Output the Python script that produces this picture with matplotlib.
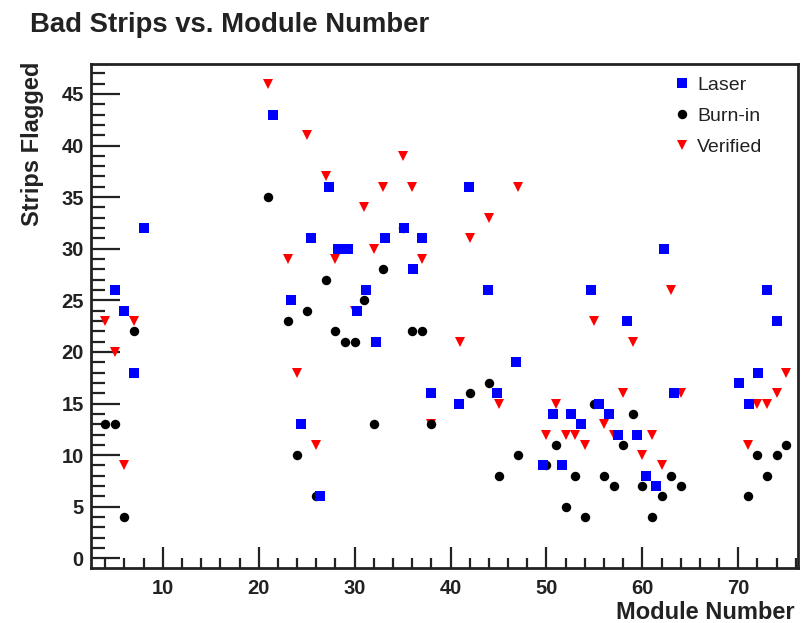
import matplotlib
matplotlib.use('Agg')
import matplotlib.pyplot as plt
from matplotlib.ticker import MultipleLocator

plt.rcParams['font.family'] = ['Liberation Sans', 'DejaVu Sans']

# Laser scan results (x offsets)
laser_x = [5, 6, 7, 8,
           21.5, 23.4, 24.4, 25.4, 26.35, 27.33, 28.3, 29.3, 30.25, 31.2, 32.2,
           33.2, 35.1, 36.05, 37.05, 38, 40.9, 41.9, 43.9, 44.8, 46.8,
           49.6, 50.7, 51.6, 52.6, 53.6, 54.6, 55.5, 56.5, 57.5, 58.4, 59.4,
           60.4, 61.4, 62.3, 63.3,
           70.1, 71.1, 72.05, 73, 74]
laser_y = [26, 24, 18, 32,
           43, 25, 13, 31, 6, 36, 30, 30, 24, 26, 21,
           31, 32, 28, 31, 16, 15, 36, 26, 16, 19,
           9, 14, 9, 14, 13, 26, 15, 14, 12, 23, 12,
           8, 7, 30, 16,
           17, 15, 18, 26, 23]

# Burn-in results
burn_x = [4, 5, 6, 7,
          21, 23, 24, 25, 26, 27, 28, 29, 30, 31, 32, 33, 35, 36, 37, 38,
          42, 44, 45, 47,
          50, 51, 52, 53, 54, 55, 56, 57, 58, 59, 60, 61, 62, 63, 64,
          71, 72, 73, 74, 75]
burn_y = [13, 13, 4, 22,
          35, 23, 10, 24, 6, 27, 22, 21, 21, 25, 13, 28, 32, 22, 22, 13,
          16, 17, 8, 10,
          9, 11, 5, 8, 4, 15, 8, 7, 11, 14, 7, 4, 6, 8, 7,
          6, 10, 8, 10, 11]

# Verified strips
ver_x = [4, 5, 6, 7,
         21, 23, 24, 25, 26, 27, 28, 29, 30, 31, 32, 33, 35, 36, 37, 38,
         41, 42, 44, 45, 47,
         50, 51, 52, 53, 54, 55, 56, 57, 58, 59, 60, 61, 62, 63, 64,
         71, 72, 73, 74, 75]
ver_y = [23, 20, 9, 23,
         46, 29, 18, 41, 11, 37, 29, 30, 24, 34, 30, 36, 39, 36, 29, 13,
         21, 31, 33, 15, 36,
         12, 15, 12, 12, 11, 23, 13, 12, 16, 21, 10, 12, 9, 26, 16,
         11, 15, 15, 16, 18]

ink = '#222222'

fig = plt.figure(figsize=(8.02, 6.23), dpi=100)
ax = fig.add_axes([0.113, 0.0888, 0.8817, 0.8085])

ax.plot(ver_x, ver_y, 'v', color='#ff0000', markersize=7.5, mew=0, label='Verified', zorder=3)
ax.plot(burn_x, burn_y, 'o', color='black', markersize=6.8, mew=0, label='Burn-in', zorder=3)
ax.plot(laser_x, laser_y, 's', color='#0000ff', markersize=7.2, mew=0, label='Laser', zorder=4)

ax.set_xlim(2.47, 76.2)
ax.set_ylim(-0.9, 47.9)

ax.xaxis.set_major_locator(MultipleLocator(10))
ax.xaxis.set_minor_locator(MultipleLocator(2))
ax.yaxis.set_major_locator(MultipleLocator(5))
ax.yaxis.set_minor_locator(MultipleLocator(1))

ax.tick_params(axis='both', which='both', direction='in', colors=ink,
               top=False, right=False)
ax.tick_params(axis='y', which='major', length=21, width=1.6, pad=5)
ax.tick_params(axis='y', which='minor', length=10, width=1.6)
ax.tick_params(axis='x', which='major', length=15, width=1.6, pad=8)
ax.tick_params(axis='x', which='minor', length=7, width=1.6)
for lab in ax.get_xticklabels() + ax.get_yticklabels():
    lab.set_fontsize(14.5)
    lab.set_fontweight('bold')
    lab.set_color(ink)

for s in ax.spines.values():
    s.set_linewidth(2)
    s.set_color(ink)

ax.set_xlabel('Module Number', fontsize=17, fontweight='bold', color=ink)
ax.xaxis.set_label_coords(0.996, -0.066)
ax.xaxis.label.set_ha('right')
ax.set_ylabel('Strips Flagged', fontsize=17, fontweight='bold', color=ink)
ax.yaxis.set_label_coords(-0.098, 1.005)
ax.yaxis.label.set_va('top')
ax.yaxis.label.set_ha('right')

handles, labels = ax.get_legend_handles_labels()
order = [2, 1, 0]
ax.legend([handles[i] for i in order], [labels[i] for i in order],
          loc='upper right', bbox_to_anchor=(0.975, 1.01), frameon=False,
          fontsize=14, handletextpad=0.3, labelspacing=0.68,
          handlelength=1.0, labelcolor=ink)

fig.text(30 / 802, 1 - 32 / 623, 'Bad Strips vs. Module Number',
         fontsize=19.8, fontweight='bold', color=ink, va='baseline', ha='left')

fig.savefig('out.png', dpi=100)
